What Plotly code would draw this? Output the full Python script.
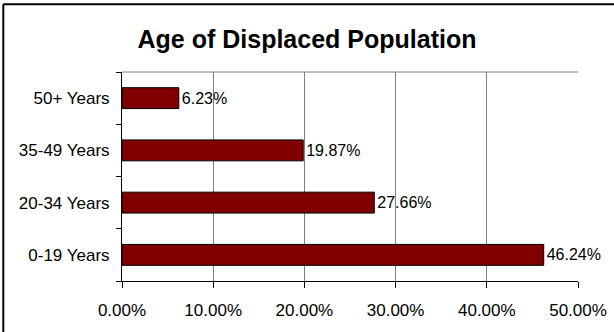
import plotly.graph_objects as go

# Share of displaced population by age group (fractions)
age_groups = ["0-19 Years", "20-34 Years", "35-49 Years", "50+ Years"]
shares = [0.4624, 0.2766, 0.1987, 0.0623]
x_ticks = [0.0, 0.1, 0.2, 0.3, 0.4, 0.5]

W, H = 614, 332
L, R, T, B = 122, 36, 72, 51
FONT = "Arial, Liberation Sans, sans-serif"

fig = go.Figure(
    go.Bar(
        x=shares,
        y=age_groups,
        orientation="h",
        width=0.4,
        marker=dict(color="#800000", line=dict(color="#000000", width=1)),
        texttemplate="%{x:.2%}",
        textposition="outside",
        textfont=dict(family=FONT, size=16, color="#000000"),
        constraintext="none",
        cliponaxis=False,
    )
)

plot_w = W - L - R
plot_h = H - T - B


def px_to_paper_x(px):
    return (px - L) / plot_w


def px_to_paper_y(py):
    return (H - B - py) / plot_h


frame_x = px_to_paper_x(3.3)
frame_y = px_to_paper_y(4.3)

fig.update_layout(
    width=W,
    height=H,
    margin=dict(l=L, r=R, t=T, b=B, pad=0, autoexpand=False),
    paper_bgcolor="#ffffff",
    plot_bgcolor="#ffffff",
    showlegend=False,
    title=dict(
        text="<b>Age of Displaced Population</b>",
        font=dict(family=FONT, size=25, color="#000000"),
        x=0.5,
        xref="container",
        xanchor="center",
        y=1 - 39 / H,
        yref="container",
        yanchor="middle",
    ),
    xaxis=dict(
        range=[0, 0.5],
        tickvals=x_ticks,
        tickformat=".2%",
        showgrid=True,
        gridcolor="#808080",
        gridwidth=1,
        zeroline=False,
        showline=True,
        linecolor="#000000",
        linewidth=1,
        ticks="outside",
        ticklen=6,
        tickcolor="#000000",
        ticklabelstandoff=8,
        tickfont=dict(family=FONT, size=17, color="#000000"),
        automargin=False,
        fixedrange=True,
    ),
    yaxis=dict(
        categoryorder="array",
        categoryarray=age_groups,
        showgrid=False,
        zeroline=False,
        showline=True,
        linecolor="#000000",
        linewidth=1,
        ticks="outside",
        tickson="boundaries",
        ticklen=5,
        tickcolor="#000000",
        ticklabelstandoff=8,
        tickfont=dict(family=FONT, size=17, color="#000000"),
        automargin=False,
        fixedrange=True,
    ),
    shapes=[
        # top edge of the plot area
        dict(type="line", xref="x", yref="paper", x0=0, x1=0.5, y0=1, y1=1,
             line=dict(color="#808080", width=1), layer="below"),
        # chart frame: left and top edges
        dict(type="line", xref="paper", yref="paper",
             x0=frame_x, x1=frame_x, y0=px_to_paper_y(H), y1=frame_y,
             line=dict(color="#000000", width=2)),
        dict(type="line", xref="paper", yref="paper",
             x0=frame_x, x1=px_to_paper_x(W), y0=frame_y, y1=frame_y,
             line=dict(color="#000000", width=2)),
    ],
)

fig.write_html("out.html")
